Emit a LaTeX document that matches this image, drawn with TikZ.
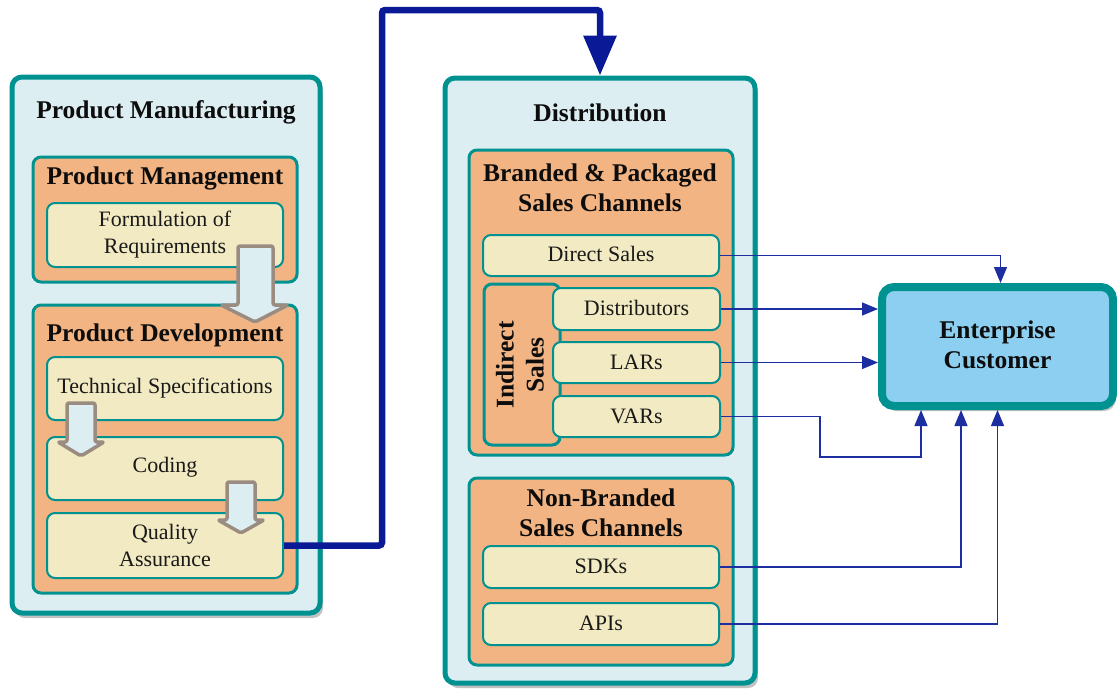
\documentclass[tikz,border=0pt]{standalone}
\usepackage{fontspec}
\setmainfont{Liberation Serif}
\usetikzlibrary{arrows.meta,shadows}

\definecolor{tealline}{RGB}{0,146,145}
\definecolor{paleblue}{RGB}{221,238,243}
\definecolor{orangefill}{RGB}{242,180,130}
\definecolor{creamfill}{RGB}{242,234,194}
\definecolor{custfill}{RGB}{141,207,240}
\definecolor{navy}{RGB}{10,26,150}
\definecolor{linkblue}{RGB}{28,46,160}
\definecolor{arrowgray}{RGB}{155,140,130}

\tikzset{
  panel/.style={draw=tealline, line width=5pt, fill=paleblue, rounded corners=10pt,
    drop shadow={shadow xshift=3pt, shadow yshift=-5pt, opacity=0.35, fill=black!70}},
  group/.style={draw=tealline, line width=3pt, fill=orangefill, rounded corners=8pt},
  item/.style={draw=tealline, line width=2pt, fill=creamfill, rounded corners=8pt},
  custbox/.style={draw=tealline, line width=8pt, fill=custfill, rounded corners=12pt,
    drop shadow={shadow xshift=3pt, shadow yshift=-5pt, opacity=0.35, fill=black!70}},
  headtext/.style={font=\fontsize{25.5}{30}\selectfont\bfseries, text=black!95, align=center, inner sep=0pt},
  bodytext/.style={font=\fontsize{22}{27}\selectfont, text=black!90, align=center, inner sep=0pt},
  blockarrow/.style={draw=arrowgray, line width=3.5pt, fill=paleblue, rounded corners=2pt, line join=round},
  bigflow/.style={draw=navy, line width=6.5pt, rounded corners=3pt,
    -{Triangle[width=32pt,length=40pt]}},
  link/.style={draw=linkblue, line width=1.3pt, -{Triangle[width=13pt,length=16pt]}},
}

\begin{document}
\begin{tikzpicture}[x=1pt,y=-1pt]
\useasboundingbox (0,0) rectangle (1117,689);

% ---------- Product Manufacturing ----------
\node[panel, minimum width=308pt, minimum height=536pt] (pm) at (166,345) {};
\node[headtext] (pm-title) at (166,112) {Product Manufacturing};

\node[group, minimum width=264pt, minimum height=125pt] (pmgmt) at (165,219.5) {};
\node[headtext] (pmgmt-title) at (165,178) {Product Management};
\node[item, minimum width=236pt, minimum height=64pt] (req) at (165,235) {};
\node[bodytext] (req-text) at (165,235) {Formulation of\\Requirements};

\node[group, minimum width=264pt, minimum height=288pt] (pdev) at (165,449) {};
\node[headtext] (pdev-title) at (165,335) {Product Development};
\node[item, minimum width=236pt, minimum height=63pt] (spec) at (165,388.5) {};
\node[bodytext] (spec-text) at (165,388) {Technical Specifications};
\node[item, minimum width=236pt, minimum height=63pt] (code) at (165,468.5) {};
\node[bodytext] (code-text) at (165,467) {Coding};
\node[item, minimum width=236pt, minimum height=65pt] (qa) at (165,545.5) {};
\node[bodytext] (qa-text) at (165,545) {Quality\\Assurance};

% step arrows between the development stages
\draw[blockarrow] (238,246) -- (273,246) -- (273,305) -- (288,305) -- (255,322)
  -- (221,305) -- (238,305) -- cycle;
\draw[blockarrow] (67,403) -- (95,403) -- (95,442) -- (104,442) -- (81,456)
  -- (58,442) -- (67,442) -- cycle;
\draw[blockarrow] (227,482) -- (255,482) -- (255,520) -- (264,520) -- (241,533)
  -- (218,520) -- (227,520) -- cycle;

% ---------- Distribution ----------
\node[panel, minimum width=310pt, minimum height=605pt] (dist) at (600,380.5) {};
\node[headtext] (dist-title) at (600,113) {Distribution};

\node[group, minimum width=264pt, minimum height=305pt] (brand) at (601,302.5) {};
\node[headtext] (brand-title) at (600,187.5) {Branded \& Packaged\\Sales Channels};
\node[item, minimum width=236pt, minimum height=41pt] (direct) at (601,255.5) {};
\node[bodytext] (direct-text) at (601,254) {Direct Sales};

\node[group, minimum width=76pt, minimum height=161pt] (indirect) at (522,364.5) {};
\node[headtext, rotate=90] (indirect-text) at (520,365) {Indirect\\Sales};
\node[item, minimum width=167pt, minimum height=42pt] (distr) at (636.5,309) {};
\node[bodytext] (distr-text) at (636.5,308) {Distributors};
\node[item, minimum width=167pt, minimum height=41pt] (lars) at (636.5,362.5) {};
\node[bodytext] (lars-text) at (636.5,362) {LARs};
\node[item, minimum width=167pt, minimum height=41pt] (vars) at (636.5,416.5) {};
\node[bodytext] (vars-text) at (636.5,416) {VARs};

\node[group, minimum width=264pt, minimum height=187pt] (nonbrand) at (601,571.5) {};
\node[headtext] (nonbrand-title) at (601,513) {Non-Branded\\Sales Channels};
\node[item, minimum width=236pt, minimum height=42pt] (sdk) at (601,567) {};
\node[bodytext] (sdk-text) at (601,566) {SDKs};
\node[item, minimum width=236pt, minimum height=42pt] (api) at (601,624) {};
\node[bodytext] (api-text) at (601,623) {APIs};

% ---------- Enterprise Customer ----------
\node[custbox, minimum width=231pt, minimum height=119pt] (cust) at (997.5,346.5) {};
\node[headtext] (cust-text) at (997.5,345) {Enterprise\\Customer};

% ---------- flows ----------
\coordinate (up) at (382,10);
\draw[bigflow] (qa.east) -| (up) -| (dist.north);

\coordinate (vbend) at (820,457);
\draw[link] (direct.east) -| ([xshift=3pt]cust.north);
\draw[link] (distr.east) -- (distr.east -| cust.west);
\draw[link] (lars.east) -- (lars.east -| cust.west);
\draw[link] (vars.east) -| (vbend) -| ([xshift=-76.5pt]cust.south);
\draw[link] (sdk.east) -| ([xshift=-36.5pt]cust.south);
\draw[link] (api.east) -| (cust.south);
\end{tikzpicture}
\end{document}
